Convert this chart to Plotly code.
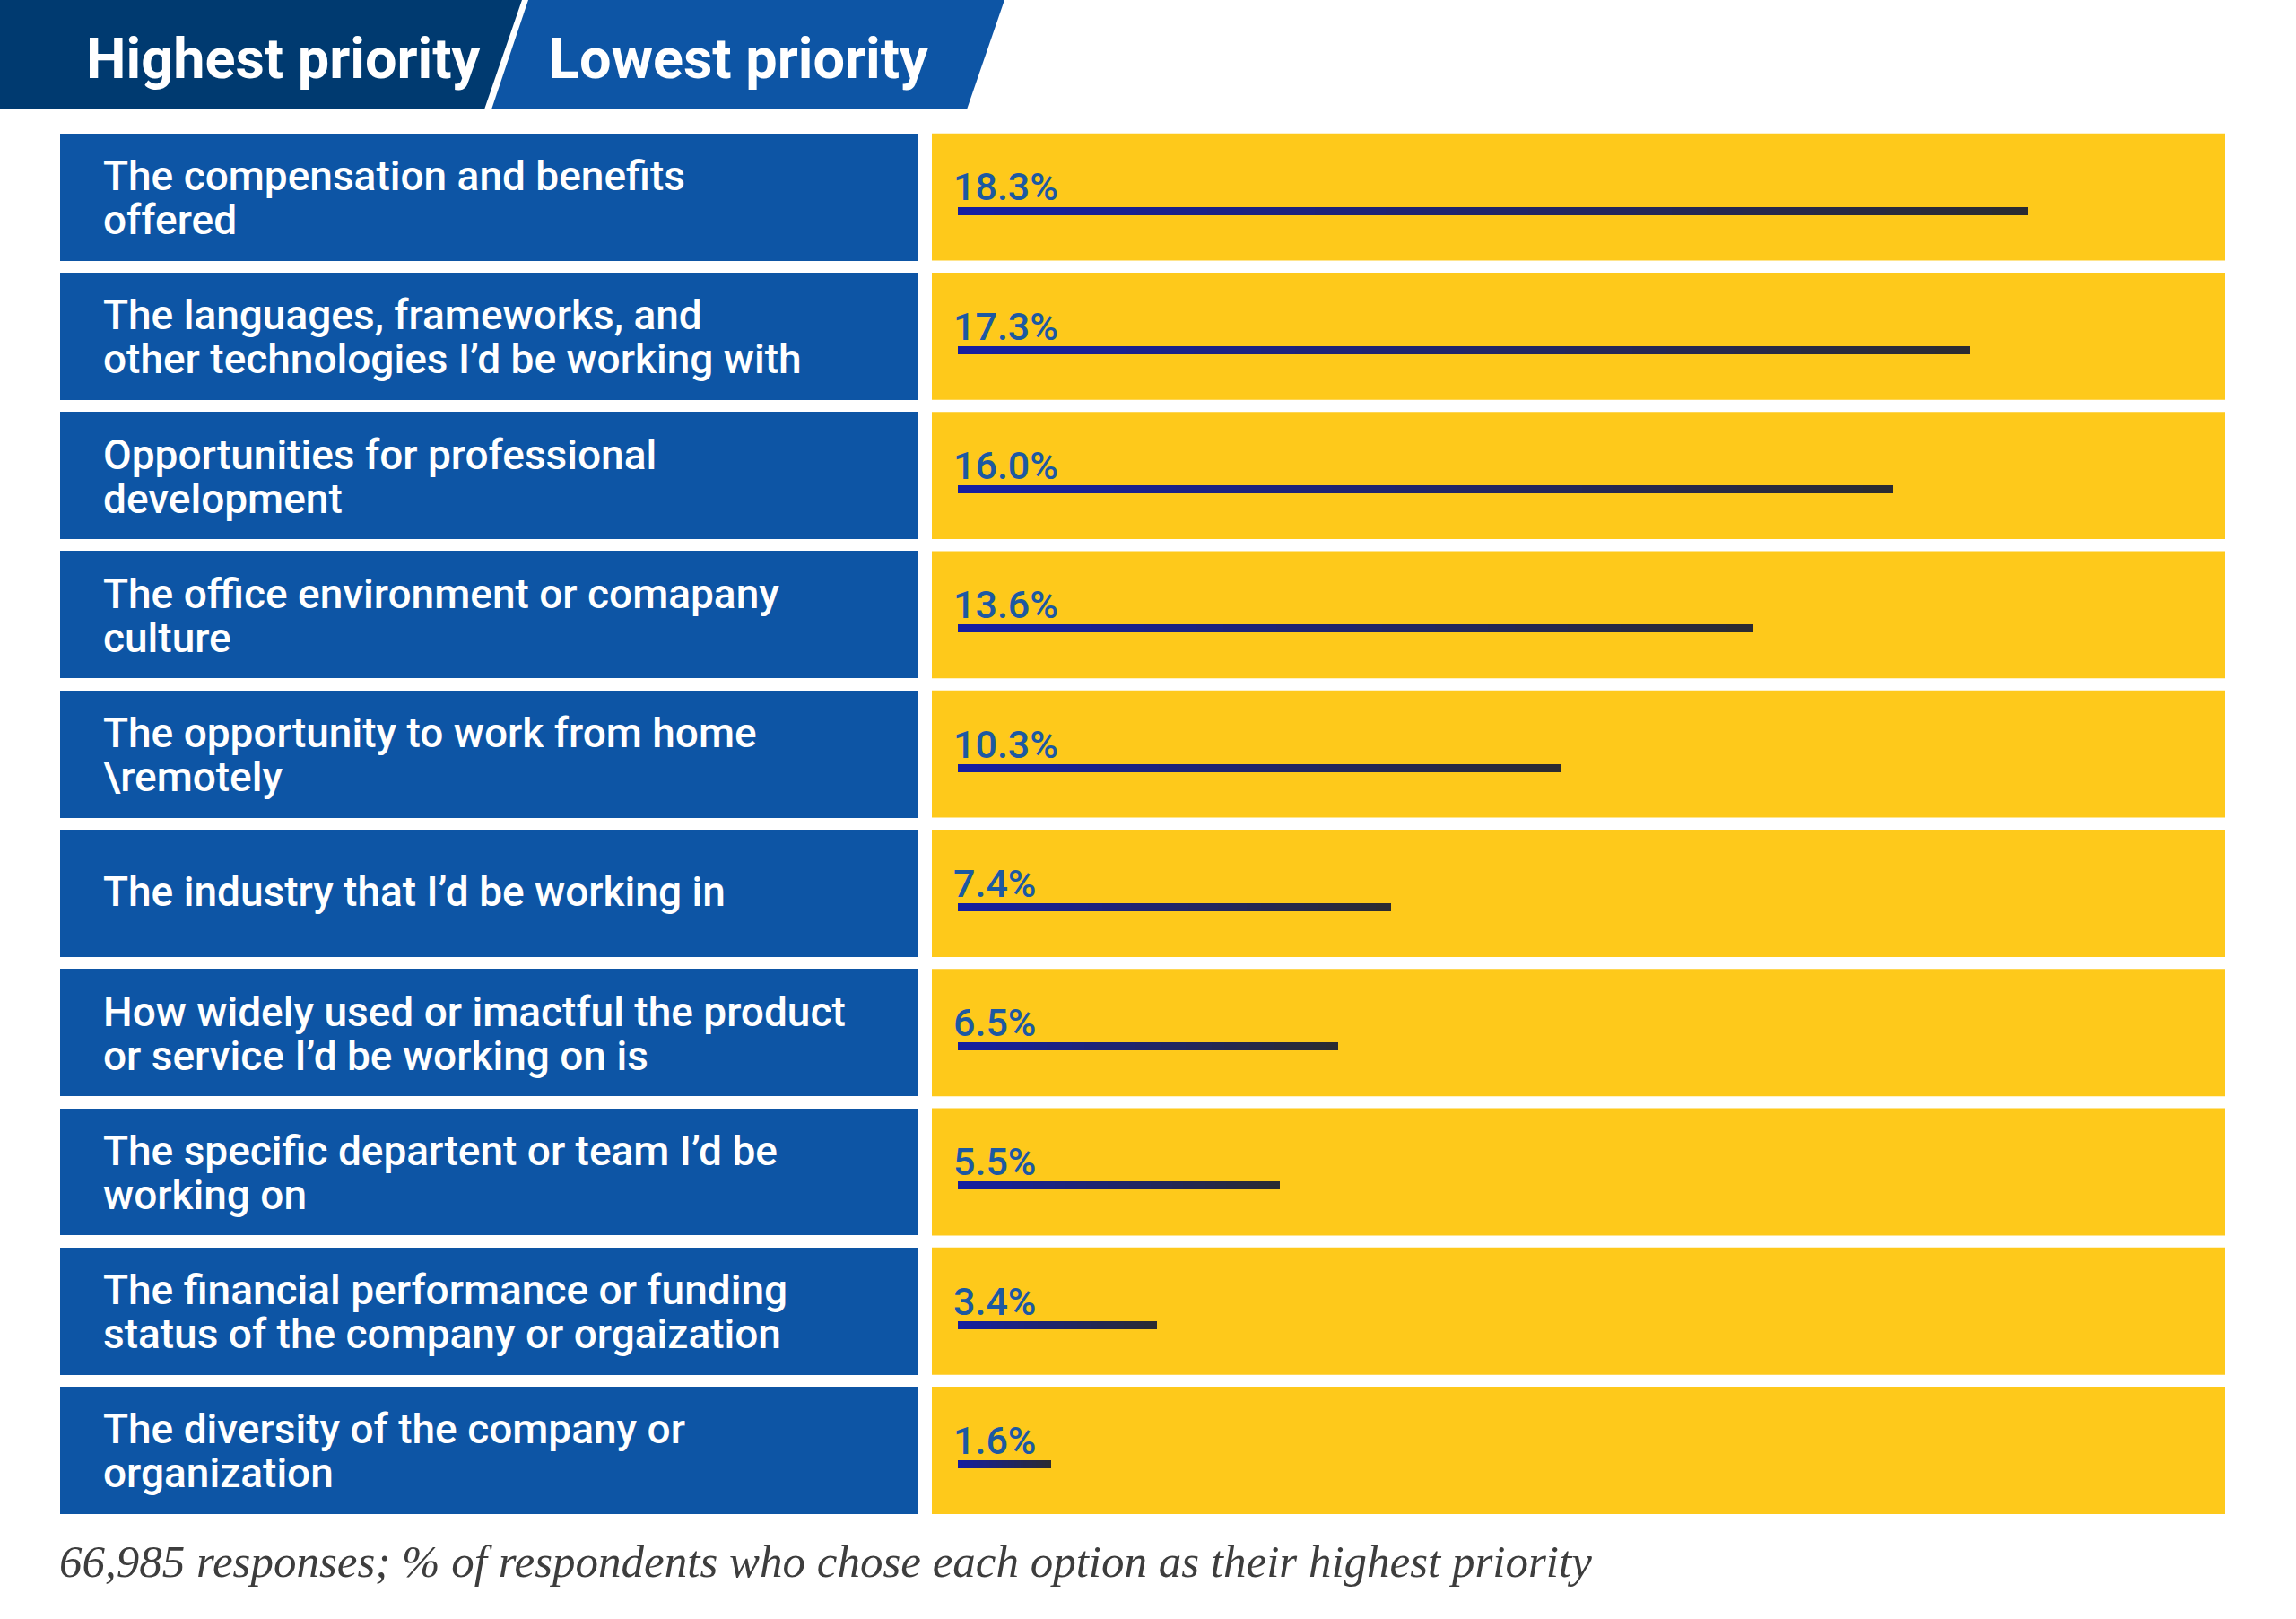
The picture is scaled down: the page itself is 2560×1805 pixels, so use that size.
import plotly.graph_objects as go

# ---------------- data ----------------
categories = [
    "The compensation and benefits\noffered",
    "The languages, frameworks, and\nother technologies I’d be working with",
    "Opportunities for professional\ndevelopment",
    "The office environment or comapany\nculture",
    "The opportunity to work from home\n\\remotely",
    "The industry that I’d be working in",
    "How widely used or imactful the product\nor service I’d be working on is",
    "The specific departent or team I’d be\nworking on",
    "The financial performance or funding\nstatus of the company or orgaization",
    "The diversity of the company or\norganization",
]
values = [18.3, 17.3, 16.0, 13.6, 10.3, 7.4, 6.5, 5.5, 3.4, 1.6]
value_labels = [f"{v:.1f}%" for v in values]
header_tabs = ["Highest priority", "Lowest priority"]
footnote = "66,985 responses; % of respondents who chose each option as their highest priority"

# ---------------- styling ----------------
W, H = 2560, 1805
BLUE = "#0d55a5"
NAVY = "#003a70"
YELLOW = "#fec91b"
LABEL_BLUE = "#1c59a2"
GRAD_START = (22, 30, 160)
GRAD_END = (43, 43, 50)
FONT = "Roboto"


def px(x):
    return x / W


def py(y):
    return 1 - y / H


idx = list(range(len(categories)))
BAND = 0.914
BAR_OFF = 0.07
BAR_W = 0.058

fig = go.Figure()

# blue label boxes (left panel)
fig.add_trace(go.Bar(
    y=idx, x=[1] * len(idx), orientation="h", xaxis="x2", yaxis="y",
    width=BAND, marker=dict(color=BLUE, line=dict(width=0)),
    hoverinfo="skip", showlegend=False,
))

# gradient value bars, split into segments along each bar's length
N = 30
for k in range(N):
    t = k / (N - 1)
    c = tuple(round(GRAD_START[j] + (GRAD_END[j] - GRAD_START[j]) * t) for j in range(3))
    fig.add_trace(go.Bar(
        y=idx, x=[v / N for v in values], base=[v * k / N for v in values],
        orientation="h", xaxis="x", yaxis="y",
        offset=BAR_OFF, width=BAR_W,
        marker=dict(color=f"rgb{c}", line=dict(width=0)),
        hoverinfo="skip", showlegend=False,
    ))

shapes = []
# yellow bands
for i in idx:
    shapes.append(dict(
        type="rect", xref="x domain", yref="y", x0=0, x1=1,
        y0=i - BAND / 2, y1=i + BAND / 2,
        fillcolor=YELLOW, line=dict(width=0), layer="below",
    ))

# header tabs
def path(pts):
    return "M " + " L ".join(f"{px(x)},{py(y)}" for x, y in pts) + " Z"

shapes.append(dict(type="path", xref="paper", yref="paper",
                   path=path([(0, 0), (582, 0), (540, 122), (0, 122)]),
                   fillcolor=NAVY, line=dict(width=0)))
shapes.append(dict(type="path", xref="paper", yref="paper",
                   path=path([(589, 0), (1120, 0), (1078, 122), (548, 122)]),
                   fillcolor=BLUE, line=dict(width=0)))

annotations = []
# header text
for text, cx in zip(header_tabs, [316, 823]):
    annotations.append(dict(
        text=text, xref="paper", yref="paper", x=px(cx), y=py(66),
        xanchor="center", yanchor="middle", showarrow=False,
        font=dict(family=FONT, size=63, color="white", weight=700),
    ))

# left labels, line by line
LINE = 49
for i, lab in zip(idx, categories):
    lines = lab.split("\n")
    n = len(lines)
    base_shift = -1 if n > 1 else 2
    for k, ln in enumerate(lines):
        annotations.append(dict(
            text=ln, xref="x2", yref="y", x=0.048, y=i,
            xanchor="left", yanchor="middle", showarrow=False,
            yshift=((n - 1) / 2 - k) * LINE + base_shift,
            font=dict(family=FONT, size=46, color="white", weight=500),
        ))

# value labels
for i, t in zip(idx, value_labels):
    annotations.append(dict(
        text=t, xref="x", yref="y", x=0, y=i + BAR_OFF,
        xanchor="left", yanchor="bottom", showarrow=False,
        xshift=-7, yshift=-5,
        font=dict(family=FONT, size=43, color=LABEL_BLUE, weight=500),
    ))

# footnote
annotations.append(dict(
    text=footnote, xref="paper", yref="paper", x=px(64), y=py(1741),
    xanchor="left", yanchor="middle", showarrow=False,
    font=dict(family="Liberation Serif", size=51, color="#3d3d3d", style="italic"),
))

fig.update_layout(
    width=W, height=H,
    margin=dict(l=0, r=0, t=0, b=0),
    paper_bgcolor="white", plot_bgcolor="rgba(0,0,0,0)",
    barmode="overlay", bargap=0,
    showlegend=False,
    xaxis=dict(domain=[px(1039), px(2481)], range=[-0.445, 21.67],
               visible=False, fixedrange=True),
    xaxis2=dict(domain=[px(67), px(1024)], range=[0, 1], anchor="y",
                visible=False, fixedrange=True),
    yaxis=dict(domain=[py(1694.6), py(142)], range=[9.5, -0.5],
               visible=False, fixedrange=True),
    shapes=shapes,
    annotations=annotations,
)

fig.write_html(
    "out.html",
    config={"displayModeBar": False},
    post_script="document.body.style.margin='0';document.body.style.overflow='hidden';",
)
